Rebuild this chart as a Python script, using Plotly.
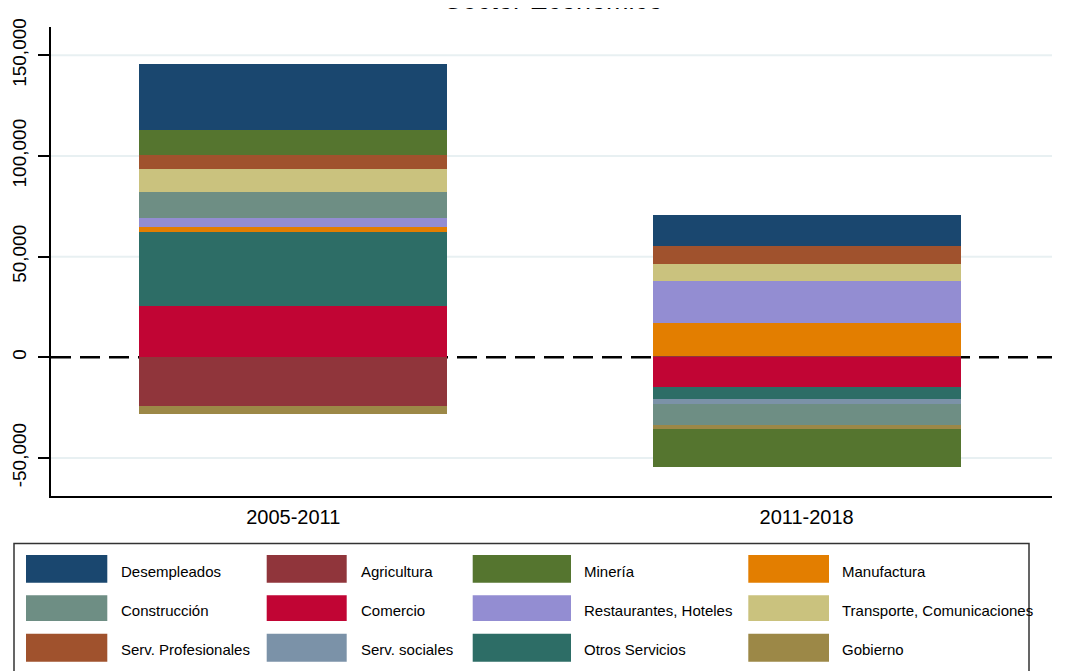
import plotly.graph_objects as go

# ---------------- data ----------------
periods = ["2005-2011", "2011-2018"]

# stacking order (relative bars stack in this order, separately for + and -)
sectors = [
    "Agricultura", "Comercio", "Otros Servicios", "Serv. sociales", "Manufactura",
    "Restaurantes, Hoteles", "Construcción", "Transporte, Comunicaciones",
    "Serv. Profesionales", "Gobierno", "Minería", "Desempleados",
]
agricultura = [-24000, 800]
comercio = [25500, -14600]
otros_servicios = [36600, -6100]
serv_sociales = [0, -2300]
manufactura = [2600, 16100]
restaurantes = [4650, 20850]
construccion = [12800, -10800]
transporte = [11300, 8600]
serv_profesionales = [6950, 8800]
gobierno = [-4200, -1700]
mineria = [12300, -18800]
desempleados = [33100, 15700]

series_values = [
    agricultura, comercio, otros_servicios, serv_sociales, manufactura, restaurantes,
    construccion, transporte, serv_profesionales, gobierno, mineria, desempleados,
]

colors = {
    "Desempleados": "#1a476f", "Agricultura": "#90353b", "Minería": "#55752f",
    "Manufactura": "#e37e00", "Construcción": "#6e8e84", "Comercio": "#c10534",
    "Restaurantes, Hoteles": "#938dd2", "Transporte, Comunicaciones": "#cac27e",
    "Serv. Profesionales": "#a0522d", "Serv. sociales": "#7b92a8",
    "Otros Servicios": "#2d6d66", "Gobierno": "#9c8847",
}

legend_rows = [
    ["Desempleados", "Agricultura", "Minería", "Manufactura"],
    ["Construcción", "Comercio", "Restaurantes, Hoteles", "Transporte, Comunicaciones"],
    ["Serv. Profesionales", "Serv. sociales", "Otros Servicios", "Gobierno"],
]

y_tickvals = [-50000, 0, 50000, 100000, 150000]
y_ticktext = ["-50,000", "0", "50,000", "100,000", "150,000"]
title_text = "Sector Económico"

# ---------------- layout geometry ----------------
OFF = 8  # page body margin
W, H = 1067 - OFF, 671 - OFF
# plot area in page pixels
L, R, T, B = 51, 1052, 27, 496
FONT = "Liberation Sans, Arial, Helvetica, sans-serif"


def px2x(px):
    return (px - L) / (R - L)


def py2y(py):
    return (B - py) / (B - T)


fig = go.Figure()
for name, vals in zip(sectors, series_values):
    fig.add_trace(go.Bar(
        x=periods, y=vals, name=name, width=0.6,
        marker=dict(color=colors[name], line=dict(width=0)),
        showlegend=False,
    ))

shapes = []
# horizontal grid lines (non-zero ticks) and dashed zero line, all behind the bars
for v in y_tickvals:
    if v == 0:
        continue
    shapes.append(dict(type="line", xref="paper", yref="y", x0=0, x1=1, y0=v, y1=v,
                       line=dict(color="#e8f0f2", width=2), layer="below"))
shapes.append(dict(type="line", xref="paper", yref="y", x0=0, x1=1, y0=0, y1=0,
                   line=dict(color="black", width=2.5, dash="20px,9px"), layer="below"))

# legend box
shapes.append(dict(type="rect", xref="paper", yref="paper",
                   x0=px2x(14), x1=px2x(1029), y0=py2y(690), y1=py2y(543.5),
                   line=dict(color="#333333", width=1.5), fillcolor="rgba(0,0,0,0)"))

col_sw = [(26, 107.3), (266.7, 346.7), (472.7, 571), (748.3, 829)]
col_tx = [119, 358.7, 582.3, 840.3]
row_sw = [(555, 582.7), (595.3, 621), (633.7, 661.7)]
row_tx = [571.5, 610.5, 649.5]

annotations = []
for r, row in enumerate(legend_rows):
    for c, name in enumerate(row):
        shapes.append(dict(type="rect", xref="paper", yref="paper",
                           x0=px2x(col_sw[c][0]), x1=px2x(col_sw[c][1]),
                           y0=py2y(row_sw[r][1]), y1=py2y(row_sw[r][0]),
                           line=dict(width=0), fillcolor=colors[name]))
        annotations.append(dict(text=name, xref="paper", yref="paper",
                                x=px2x(col_tx[c]), y=py2y(row_tx[r]),
                                xanchor="left", yanchor="middle", showarrow=False,
                                font=dict(family=FONT, size=15, color="black")))

# title (top cut off as in the reference)
annotations.append(dict(text=title_text, xref="paper", yref="paper",
                        x=px2x(553), y=py2y(17), xanchor="center", yanchor="bottom",
                        showarrow=False, font=dict(family=FONT, size=27, color="black")))

fig.update_layout(
    width=W, height=H,
    barmode="relative",
    bargap=0,
    plot_bgcolor="white", paper_bgcolor="white",
    margin=dict(l=L - OFF, r=(W + OFF) - R, t=T - OFF, b=(H + OFF) - B, pad=0,
                autoexpand=False),
    font=dict(family=FONT, color="black"),
    shapes=shapes,
    annotations=annotations,
    showlegend=False,
)
fig.update_xaxes(
    type="category", range=[-0.472, 1.478], automargin=False,
    showline=True, linecolor="black", linewidth=1.5,
    showgrid=False, ticks="", tickfont=dict(size=20, family=FONT),
    ticklabelstandoff=2,
)
fig.update_yaxes(
    range=[-68900, 164080], automargin=False,
    tickvals=y_tickvals, ticktext=y_ticktext, tickangle=-90,
    showline=True, linecolor="black", linewidth=1.5,
    ticks="outside", ticklen=11, tickwidth=1.5, tickcolor="black",
    showgrid=False, zeroline=False, tickfont=dict(size=19, family=FONT),
    ticklabelstandoff=5,
)

fig.write_html("out.html")
